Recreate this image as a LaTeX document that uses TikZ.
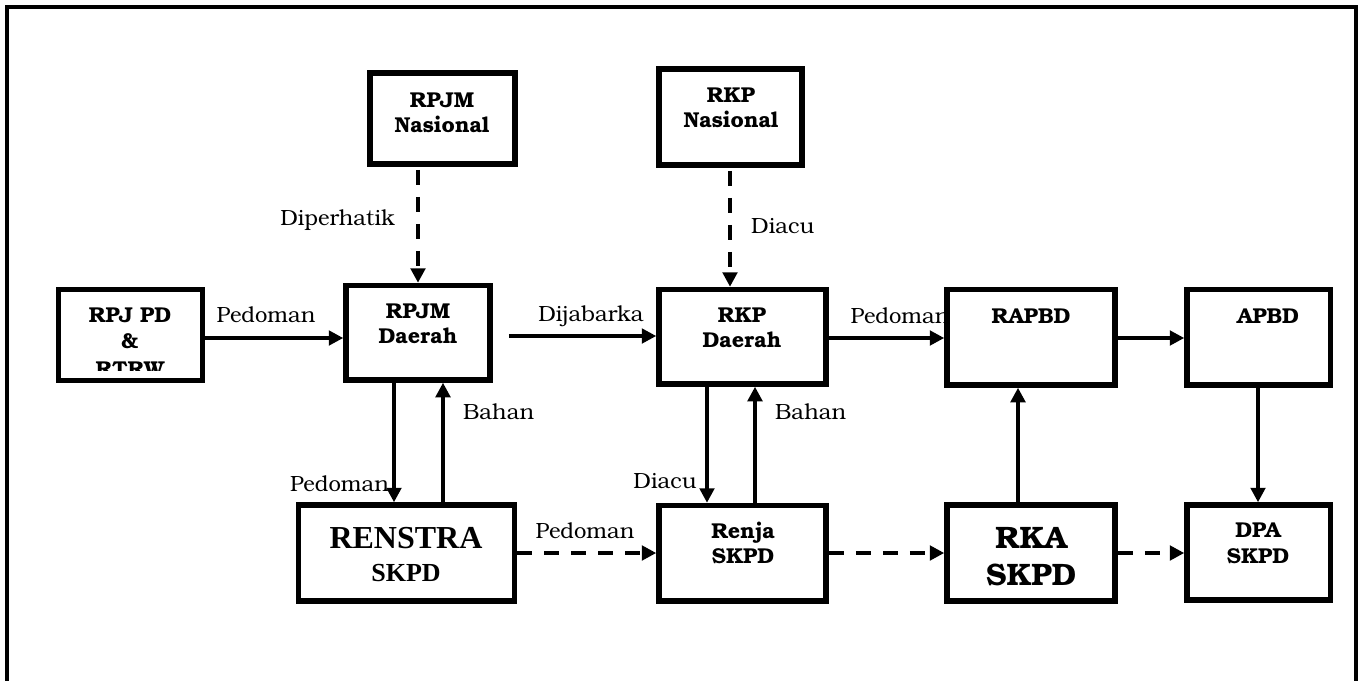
\documentclass[tikz,border=0pt]{standalone}
\usepackage{fontspec}
\usetikzlibrary{arrows.meta,calc}
\newfontfamily\bonum{texgyrebonum}[Extension=.otf,UprightFont=*-regular,BoldFont=*-bold]
\newfontfamily\tms{Liberation Serif}
\begin{document}
\begin{tikzpicture}[x=1pt,y=-1pt,
  box/.style={draw,line width=5.5pt,inner sep=0pt},
  bl/.style={font=\bonum\bfseries\fontsize{21.5}{25}\selectfont, anchor=base, inner sep=0pt},
  lb/.style={font=\bonum\fontsize{22}{26}\selectfont, anchor=base, inner sep=0pt},
  arr/.style={line width=3.5pt,-{Triangle[length=14.5pt,width=14.5pt]}},
  darr/.style={arr,line width=4pt,dash pattern=on 15pt off 12pt}]
\useasboundingbox (0,0) rectangle (1364,680);
\fill[white] (0,0) rectangle (1364,680);
\clip (0,0) rectangle (1364,680);
% outer frame
\draw[line width=3.5pt] (7,700) -- (7,7) -- (1356,7) -- (1356,700);

% connector labels
\node[lb, anchor=base east] (l1) at (395,225) {Diperhatik};
\node[lb, anchor=base west] (l2) at (751,233) {Diacu};
\node[lb] (l3) at (266,322) {Pedoman};
\node[lb] (l4) at (591,321) {Dijabarka};
\node[lb] (l5) at (900,323) {Pedoman};
\node[lb, anchor=base east] (l6) at (389,491) {Pedoman};
\node[lb, anchor=base west] (l7) at (463,419) {Bahan};
\node[lb] (l8) at (585,538) {Pedoman};
\node[lb, anchor=base east] (l9) at (697,488) {Diacu};
\node[lb, anchor=base west] (l10) at (775,419) {Bahan};

% boxes
\node[box, minimum width=145pt, minimum height=91pt] (rpjmn) at (442.5,118.5) {};
\node[box, minimum width=143pt, minimum height=96pt] (rkpn) at (730.5,117) {};
\node[box, minimum width=144pt, minimum height=91pt] (rpjpd) at (130.5,335) {};
\node[box, minimum width=144pt, minimum height=94.5pt] (rpjmd) at (418,332.75) {};
\node[box, minimum width=167pt, minimum height=94.5pt] (rkpd) at (742.5,336.75) {};
\node[box, minimum width=168pt, minimum height=95.5pt] (rapbd) at (1031,337.25) {};
\node[box, minimum width=143.5pt, minimum height=95.5pt] (apbd) at (1258.75,337.25) {};
\node[box, minimum width=216pt, minimum height=96pt] (renstra) at (406.5,553) {};
\node[box, minimum width=167pt, minimum height=95.5pt] (renja) at (742.5,553.25) {};
\node[box, minimum width=168pt, minimum height=96pt] (rka) at (1031,553) {};
\node[box, minimum width=143.5pt, minimum height=95pt] (dpa) at (1258.75,552.5) {};

% box texts
\node[bl] (t1a) at (442,107) {RPJM};
\node[bl] (t1b) at (442,132) {Nasional};
\node[bl] (t2a) at (731,102) {RKP};
\node[bl] (t2b) at (731,127) {Nasional};
\node[bl] (t3a) at (130,322) {RPJ PD};
\node[bl] (t3b) at (130,348) {\&};
\begin{scope}
\clip (62,290) rectangle (200,370);
\node[bl] (t3c) at (130,376) {RTRW};
\end{scope}
\node[bl] (t4a) at (418,318) {RPJM};
\node[bl] (t4b) at (418,343) {Daerah};
\node[bl] (t5a) at (742,322) {RKP};
\node[bl] (t5b) at (742,347) {Daerah};
\node[bl] (t6) at (1031,323) {RAPBD};
\node[bl] (t7) at (1268,323) {APBD};
\node[anchor=base, inner sep=0pt, font=\tms\bfseries\fontsize{32}{36}\selectfont] (t8a) at (406,548) {RENSTRA};
\node[anchor=base, inner sep=0pt, font=\tms\bfseries\fontsize{26}{30}\selectfont] (t8b) at (406,581) {SKPD};
\node[bl] (t9a) at (743,538) {Renja};
\node[bl] (t9b) at (743,563) {SKPD};
\node[bl, font=\bonum\bfseries\fontsize{31}{36}\selectfont] (t10a) at (1031,548) {RKA};
\node[bl, font=\bonum\bfseries\fontsize{31}{36}\selectfont] (t10b) at (1031,585) {SKPD};
\node[bl] (t11a) at (1258,537) {DPA};
\node[bl] (t11b) at (1258,563) {SKPD};

% helper coordinates
\coordinate (hA) at (0,338);
\coordinate (hB) at (0,336);
\coordinate (hC) at (0,553);
\coordinate (vA) at (418,0);
\coordinate (vB) at (730,0);
\coordinate (v1) at (394,0);
\coordinate (v2) at (443,0);
\coordinate (v3) at (707,0);
\coordinate (v4) at (755,0);
\coordinate (v5) at (1018,0);
\coordinate (v6) at (1258,0);

% connectors
\draw[darr, shorten <=3pt] (rpjmn.south -| vA) -- (rpjmd.north -| vA);
\draw[darr, shorten <=3pt] (rkpn.south -| vB) -- (rkpd.north -| vB);
\draw[arr] (rpjpd.east |- hA) -- (rpjmd.west |- hA);
\draw[arr, shorten <=16pt] (rpjmd.east |- hB) -- (rkpd.west |- hB);
\draw[arr] (rkpd.east |- hA) -- (rapbd.west |- hA);
\draw[arr] (rapbd.east |- hA) -- (apbd.west |- hA);
\draw[arr] (rpjmd.south -| v1) -- (renstra.north -| v1);
\draw[arr] (renstra.north -| v2) -- (rpjmd.south -| v2);
\draw[arr] (rkpd.south -| v3) -- (renja.north -| v3);
\draw[arr] (renja.north -| v4) -- (rkpd.south -| v4);
\draw[arr] (rka.north -| v5) -- (rapbd.south -| v5);
\draw[arr] (apbd.south -| v6) -- (dpa.north -| v6);
\draw[darr] (renstra.east |- hC) -- (renja.west |- hC);
\draw[darr] (renja.east |- hC) -- (rka.west |- hC);
\draw[darr] (rka.east |- hC) -- (dpa.west |- hC);
\end{tikzpicture}
\end{document}
